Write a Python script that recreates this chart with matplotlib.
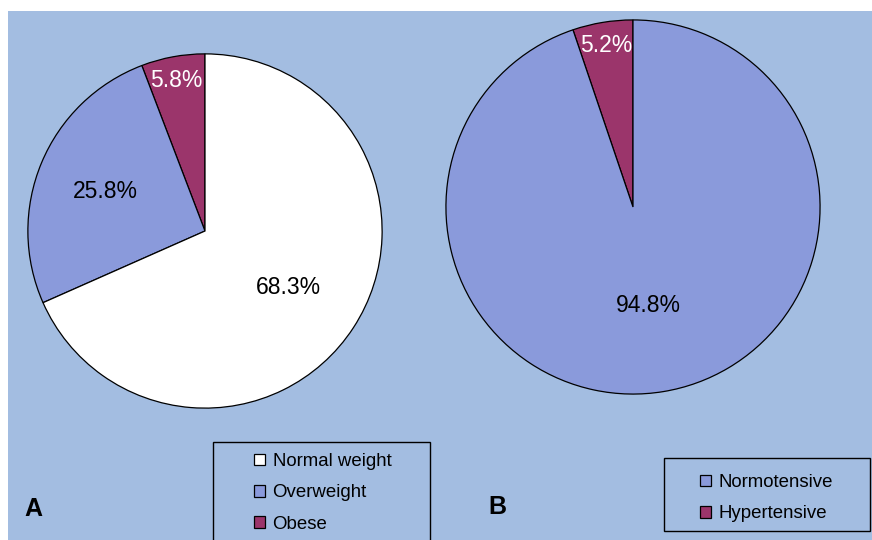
import numpy as np
import matplotlib
matplotlib.use('Agg')
from matplotlib import pyplot as plt
from matplotlib.patches import Rectangle

plt.rcParams['font.family'] = ['Liberation Sans', 'DejaVu Sans']

# data
weight_labels = ['Normal weight', 'Overweight', 'Obese']
weight_pct = [68.3, 25.8, 5.8]
bp_labels = ['Normotensive', 'Hypertensive']
bp_pct = [94.8, 5.2]

bg = '#A3BDE1'
weight_colors = ['#FFFFFF', '#8A9ADB', '#9B356B']
bp_colors = ['#8A9ADB', '#9B356B']
W, H = 872, 540


def fig_box(x0, y0, x1, y1):
    # pixel box (top-left origin) -> figure fraction [l, b, w, h]
    return [x0 / W, (H - y1) / H, (x1 - x0) / W, (y1 - y0) / H]


def draw_pie(ax, values, colors, txt_colors, dists):
    # pie drawn counterclockwise from top, in reverse of legend order
    wedges, _ = ax.pie(values[::-1], colors=colors[::-1], startangle=90,
                       counterclock=True, radius=1,
                       wedgeprops=dict(edgecolor='black', linewidth=0.9))
    ax.set_xlim(-1.005, 1.005)
    ax.set_ylim(-1.005, 1.005)
    ax.set_aspect('equal')
    ax.axis('off')
    wedges = wedges[::-1]
    for w, v, c, d in zip(wedges, values, txt_colors, dists):
        ang = np.deg2rad((w.theta1 + w.theta2) / 2)
        ax.text(d * np.cos(ang), d * np.sin(ang), '%.1f%%' % v, color=c,
                ha='center', va='center_baseline', fontsize=16.5)
    return wedges


fig = plt.figure(figsize=(W / 100, H / 100), dpi=100)
fig.patches.append(Rectangle((8 / W, 0), 1 - 8 / W, 1 - 11 / H, transform=fig.transFigure,
                             facecolor=bg, edgecolor='none', zorder=-1))

ax_a = fig.add_axes(fig_box(27, 53, 383, 409))
wa = draw_pie(ax_a, weight_pct, weight_colors, ['black', 'black', 'white'], [0.56, 0.61, 0.88])

ax_b = fig.add_axes(fig_box(445, 19, 821, 395))
wb = draw_pie(ax_b, bp_pct, bp_colors, ['black', 'white'], [0.52, 0.89])

# legend frames
for x0, y0, x1, y1 in [(213, 442, 430, 548), (664, 458, 870, 531)]:
    l, b, w, h = fig_box(x0, y0, x1, y1)
    fig.patches.append(Rectangle((l, b), w, h, transform=fig.transFigure,
                                 facecolor='none', edgecolor='black', linewidth=1.0))

leg_kw = dict(loc='upper left', bbox_transform=fig.transFigure, frameon=False,
              borderpad=0, borderaxespad=0, fontsize=13.4, handlelength=0.6,
              handleheight=0.6, handletextpad=0.4, labelspacing=0.77)
la = fig.legend(wa, weight_labels, bbox_to_anchor=(254 / W, 1 - 453 / H), **leg_kw)
lb = fig.legend(wb, bp_labels, bbox_to_anchor=(700 / W, 1 - 474 / H), **leg_kw)

fig.text(24 / W, 1 - 509 / H, 'A', fontsize=18, fontweight='bold', va='center', ha='left')
fig.text(488 / W, 1 - 507 / H, 'B', fontsize=18, fontweight='bold', va='center', ha='left')

fig.savefig('out.png', dpi=100)
